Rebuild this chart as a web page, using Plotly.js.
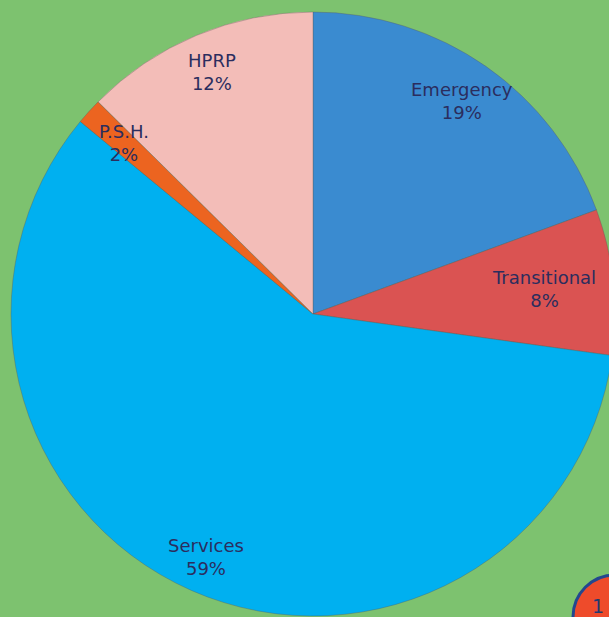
<!DOCTYPE html>
<html>
<head>
<meta charset="utf-8">
<script src="https://cdn.plot.ly/plotly-3.0.1.min.js"></script>
<style>
  html, body { margin: 0; padding: 0; background: #7DC26F; overflow: hidden; width: 609px; height: 617px; }
  #chart { position: absolute; left: 0; top: 0; width: 626px; height: 628px; }
</style>
</head>
<body>
<div id="chart"></div>
<script>
// Data
const categories = ["Emergency", "Transitional", "Services", "P.S.H.", "HPRP"];
const values = [19.4, 7.8, 58.8, 1.4, 12.6];
const percentLabels = ["19%", "8%", "59%", "2%", "12%"];

// Styles
const colors = ["#3A8BD0", "#DA5352", "#00B0F0", "#EC6420", "#F3BDB8"];
const labelRadius = [0.86, 0.77, 0.88, 0.845, 0.87];

const W = 626, H = 628, L = 11, T = 12;
const PW = 604, PH = 604;

const total = values.reduce((a, b) => a + b, 0);
let cum = 0;
const annotations = categories.map((c, i) => {
  const mid = cum + values[i] / 2;
  cum += values[i];
  const theta = (90 - 360 * mid / total) * Math.PI / 180;
  return {
    xref: "paper", yref: "paper",
    x: 0.5 + 0.5 * labelRadius[i] * Math.cos(theta),
    y: 0.5 + 0.5 * labelRadius[i] * Math.sin(theta),
    xanchor: "center", yanchor: "middle",
    text: c + "<br>" + percentLabels[i],
    showarrow: false, align: "center",
    font: { family: "DejaVu Sans, Verdana, sans-serif", size: 18, color: "#2B2D5E" }
  };
});

// page badge
function px2x(px) { return (px - L) / PW; }
function py2y(py) { return 1 - (py - T) / PH; }
annotations.push({
  xref: "paper", yref: "paper", x: px2x(598), y: py2y(606),
  xanchor: "center", yanchor: "middle",
  text: "1", showarrow: false,
  font: { family: "DejaVu Sans, sans-serif", size: 19, color: "#1F3A6E" }
});

const data = [{
  type: "pie",
  labels: categories,
  values: values,
  sort: false,
  direction: "clockwise",
  rotation: 0,
  textinfo: "none",
  hoverinfo: "label+percent",
  marker: { colors: colors, line: { color: "rgba(90,90,90,0.45)", width: 0.8 } },
  domain: { x: [0, 1], y: [0, 1] },
  showlegend: false
}];

const layout = {
  width: W, height: H,
  margin: { l: L, r: W - L - PW, t: T, b: H - T - PH, pad: 0 },
  paper_bgcolor: "#7DC26F",
  plot_bgcolor: "#7DC26F",
  showlegend: false,
  annotations: annotations,
  shapes: [{
    type: "circle", xref: "paper", yref: "paper",
    x0: px2x(573), x1: px2x(657), y0: py2y(575), y1: py2y(659),
    fillcolor: "#EE4B2B", line: { color: "#23478F", width: 3 }
  }]
};

Plotly.newPlot("chart", data, layout, { displayModeBar: false, staticPlot: true });
</script>
</body>
</html>
